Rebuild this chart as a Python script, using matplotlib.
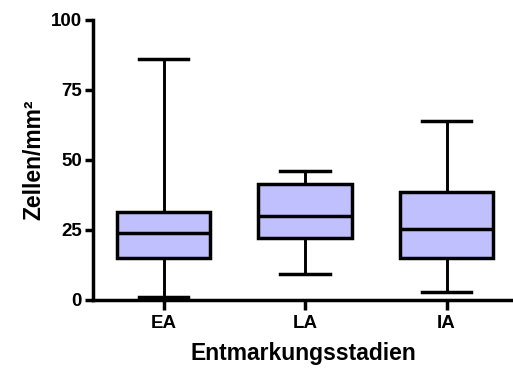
import matplotlib
matplotlib.use("Agg")
from matplotlib import pyplot as plt

plt.rcParams['font.family'] = ['Liberation Sans', 'DejaVu Sans']
plt.rcParams['font.weight'] = 'bold'

categories = ["EA", "LA", "IA"]
whisker_low = [1.2, 9.3, 3.0]
q1 = [14.9, 22.0, 14.9]
median = [23.8, 30.1, 25.4]
q3 = [31.5, 41.4, 38.7]
whisker_high = [86.0, 46.1, 63.9]

BOX_COLOR = '#c0c0ff'

stats = []
for i, name in enumerate(categories):
    stats.append({
        "label": name,
        "whislo": whisker_low[i],
        "q1": q1[i],
        "med": median[i],
        "q3": q3[i],
        "whishi": whisker_high[i],
        "fliers": [],
    })

fig = plt.figure(figsize=(5.13, 3.69), dpi=100)
ax = fig.add_axes([93 / 513, 69 / 369, 420 / 513, 280 / 369])

box_lw = 2.5
wh_lw = 2.1
ax.bxp(stats, positions=[1, 2, 3], widths=0.66, patch_artist=True,
       showfliers=False,
       boxprops=dict(facecolor=BOX_COLOR, edgecolor='black', linewidth=box_lw),
       medianprops=dict(color='black', linewidth=box_lw),
       whiskerprops=dict(color='black', linewidth=wh_lw),
       capprops=dict(color='black', linewidth=box_lw),
       capwidths=0.35)

ax.set_xlim(0.5, 3.47)
ax.set_ylim(0, 100)
ax.set_yticks([0, 25, 50, 75, 100])
ax.set_xticks([1, 2, 3])
ax.set_xticklabels(categories)

for side in ['top', 'right']:
    ax.spines[side].set_visible(False)
for side in ['left', 'bottom']:
    ax.spines[side].set_linewidth(2.5)

ax.tick_params(axis='both', width=2.5, labelsize=13.5)
ax.tick_params(axis='y', length=6, pad=2)
ax.tick_params(axis='x', length=7, pad=4)
for lab in ax.get_xticklabels() + ax.get_yticklabels():
    lab.set_fontweight('bold')

ax.set_xlabel("Entmarkungsstadien", fontsize=16.5, fontweight='bold', labelpad=7)
ax.set_ylabel("Zellen/mm²", fontsize=16.5, fontweight='bold', labelpad=4)

fig.savefig("out.png", dpi=100)
